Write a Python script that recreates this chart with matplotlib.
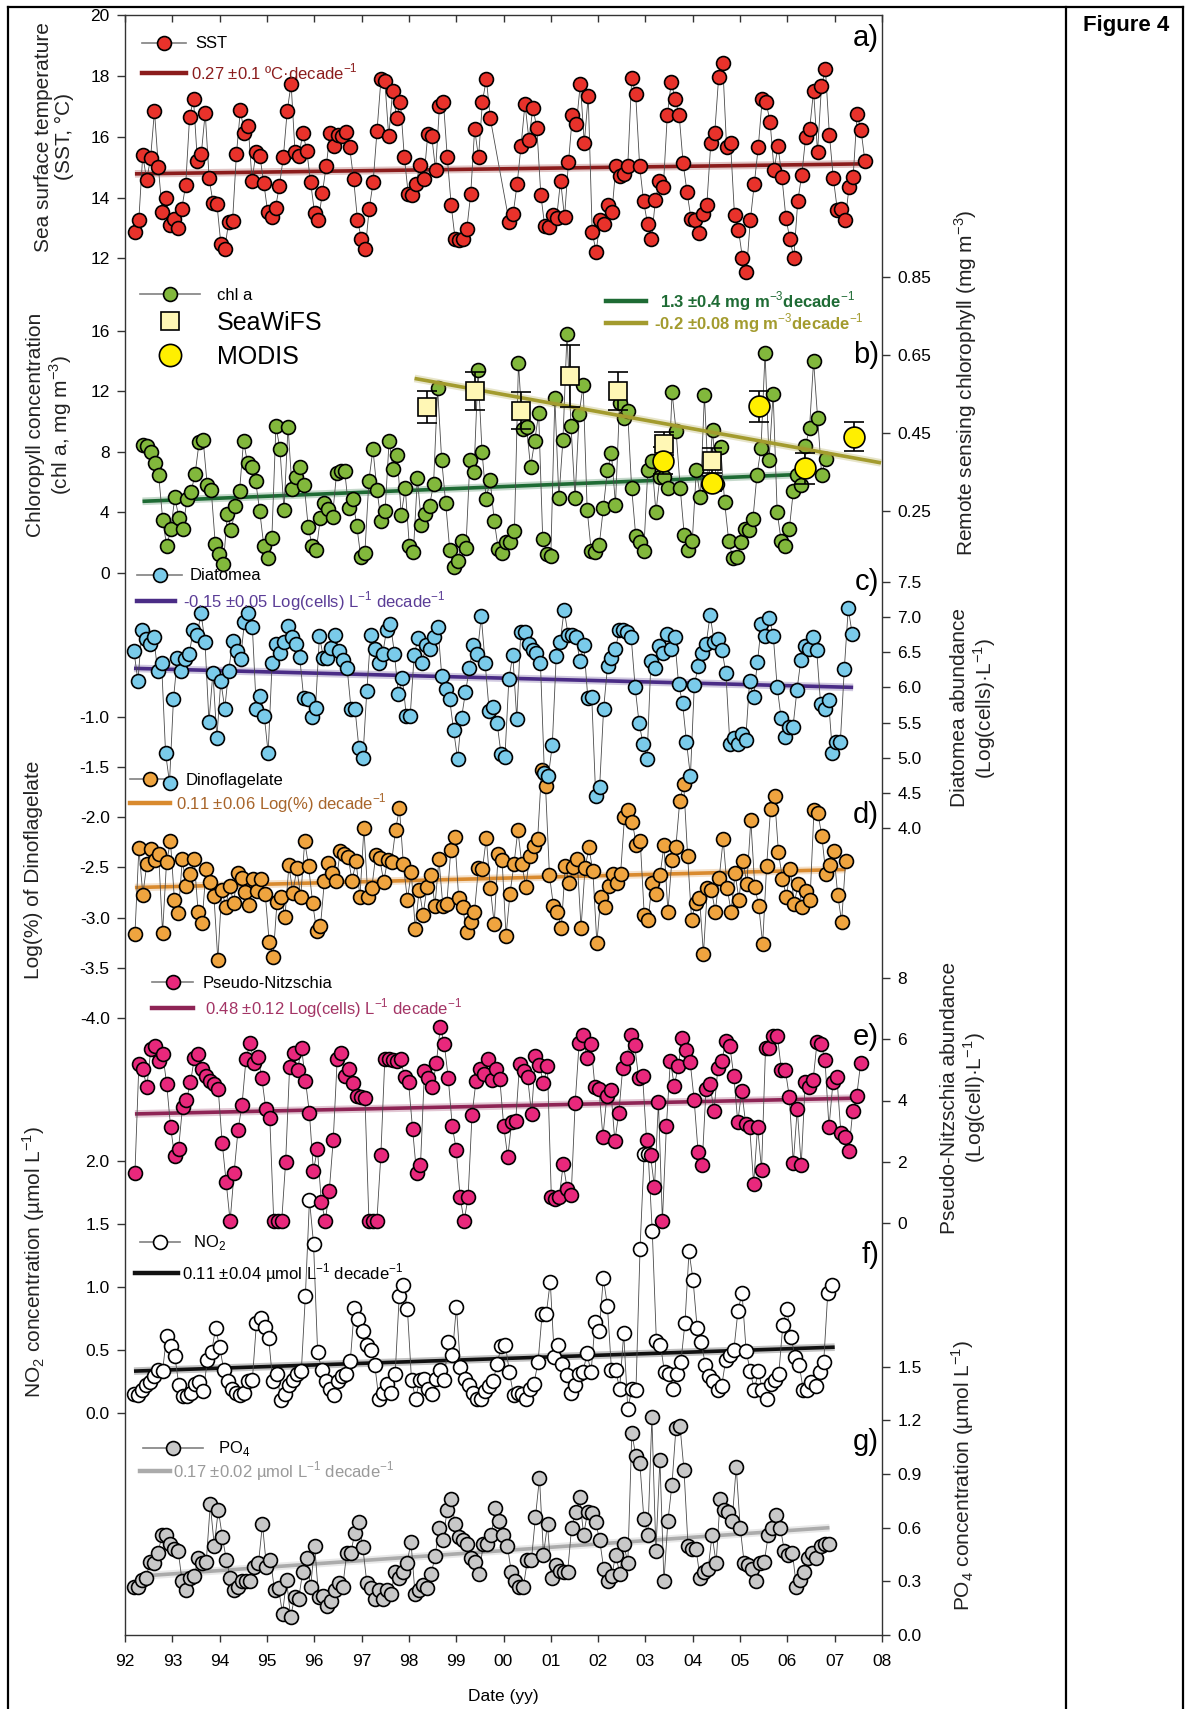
import numpy as np
import matplotlib
matplotlib.use('Agg')
import matplotlib.pyplot as plt
from matplotlib.lines import Line2D
from matplotlib.legend import Legend

plt.rcParams['font.family'] = ['Liberation Sans', 'DejaVu Sans']
plt.rcParams['mathtext.fontset'] = 'custom'
plt.rcParams['mathtext.rm'] = 'Liberation Sans'
plt.rcParams['mathtext.bf'] = 'Liberation Sans:bold'
plt.rcParams['axes.unicode_minus'] = False

# ---------------- data ----------------
# a) sea surface temperature, two sampling stretches
sst_a = [12.86, 13.27, 15.41, 14.58, 15.29, 16.85, 15.00, 13.52, 13.98, 13.08,
         13.30, 13.01, 13.63, 14.42, 16.66, 17.23, 15.19, 15.45, 16.79, 14.64,
         13.83, 13.79, 12.48, 12.31, 13.19, 13.22, 15.45, 16.87, 16.14, 16.35,
         14.56, 15.49, 15.36, 14.48, 13.52, 13.36, 13.66, 14.39, 15.32, 16.85,
         17.75, 15.49, 15.36, 16.14, 15.54, 14.50, 13.49, 13.25, 14.14, 15.05,
         16.14, 15.70, 16.07, 16.03, 16.17, 15.65, 14.61, 13.27, 12.63, 12.31,
         13.63, 14.50, 16.20, 17.89, 17.84, 16.01, 17.51, 16.63, 17.13, 15.32,
         14.12, 14.07, 14.45, 15.08, 14.61, 16.09, 16.03, 14.91, 17.02, 17.16,
         15.32, 13.74, 12.64, 12.59, 12.63, 12.97, 14.12, 16.25, 15.32, 17.16,
         17.91, 16.61]
sst_b = [13.19, 13.46, 14.43, 15.70, 17.09, 15.90, 16.96, 16.28, 14.10, 13.05,
         13.03, 13.41, 13.33, 14.56, 13.36, 15.16, 16.71, 16.42, 17.75, 15.81,
         17.34, 12.86, 12.21, 13.25, 13.14, 13.74, 13.52, 15.05, 14.70, 14.78,
         15.05, 17.95, 17.40, 15.05, 13.87, 13.14, 12.64, 13.93, 14.54, 14.36,
         16.71, 17.80, 17.23, 16.71, 15.13, 14.17, 13.30, 13.25, 12.83, 13.46,
         13.77, 15.79, 16.14, 17.98, 18.44, 15.65, 15.79, 13.41, 12.94, 12.02,
         11.55, 13.25, 14.45, 15.65, 17.23, 17.13, 16.49, 14.91, 15.70, 14.67,
         13.33, 12.64, 12.02, 13.88, 14.74, 15.98, 16.25, 17.51, 15.49, 17.67,
         18.22, 16.07, 14.63, 13.60, 13.63, 13.27, 14.36, 14.67, 16.74, 16.22,
         15.19]
sst_span_a = (1992.21, 1999.72)
sst_span_b = (2000.12, 2007.64)
sst_trend_x = [1992.21, 2007.64]
sst_trend = [14.78, 15.11]

# b) chlorophyll a
chl = [8.47, 8.40, 7.96, 7.23, 6.48, 3.49, 1.73, 2.89, 4.99, 3.62,
       2.89, 4.88, 5.32, 6.53, 8.62, 8.78, 5.82, 5.47, 1.90, 1.24,
       0.58, 3.89, 2.83, 4.44, 5.38, 8.73, 7.23, 6.97, 6.04, 4.06,
       1.79, 0.98, 2.30, 9.72, 8.18, 4.15, 9.66, 5.54, 6.31, 7.01,
       5.82, 3.00, 1.73, 1.51, 3.62, 4.59, 4.22, 3.71, 6.57, 6.70,
       6.75, 4.28, 4.88, 3.11, 1.02, 1.29, 6.09, 8.18, 5.47, 3.44,
       4.06, 8.73, 6.86, 7.81, 3.84, 5.60, 1.79, 1.35, 6.26, 3.18,
       3.89, 4.44, 5.87, 12.21, 7.48, 4.59, 1.51, 0.36, 0.80, 2.08,
       1.64, 7.48, 6.64, 13.40, 7.96, 4.88, 6.13, 3.44, 1.57, 1.29,
       2.01, 2.01, 2.74, 13.91, 9.50, 9.61, 6.97, 8.69, 10.54, 2.23,
       1.20, 1.07, 11.55, 4.94, 8.78, 15.78, 9.72, 4.94, 10.50, 12.41,
       4.15, 1.42, 1.35, 1.86, 4.28, 6.79, 7.89, 4.50, 11.20, 10.27,
       10.67, 5.60, 2.45, 2.01, 1.46, 6.79, 7.41, 4.00, 6.35, 6.30,
       5.63, 11.93, 9.35, 5.63, 2.52, 1.51, 2.12, 6.79, 4.99, 11.77,
       5.85, 9.44, 5.85, 8.33, 4.66, 2.12, 0.98, 1.02, 2.01, 2.89,
       2.83, 3.55, 6.48, 8.25, 14.57, 7.45, 11.86, 4.00, 2.08, 1.73,
       2.89, 5.43, 6.48, 5.82, 8.40, 9.57, 14.02, 10.27, 6.48, 7.52]
chl_span = (1992.37, 2006.81)
chl_trend_x = [1992.37, 2006.12]
chl_trend = [4.72, 6.48]

# b) remote sensing chlorophyll (right axis)
sw_year = [1998.39, 1999.40, 2000.38, 2001.41, 2002.41, 2003.40, 2004.41]
sw_val = [0.516, 0.558, 0.507, 0.596, 0.558, 0.422, 0.379]
sw_err = [0.041, 0.049, 0.048, 0.080, 0.049, 0.030, 0.032]
md_year = [2003.38, 2004.41, 2005.40, 2006.38, 2007.41]
md_val = [0.379, 0.320, 0.518, 0.359, 0.440]
md_err = [0.035, 0.020, 0.040, 0.040, 0.037]
rs_trend_x = [1998.12, 2007.98]
rs_trend = [0.590, 0.373]

# c) diatoms
dia = [6.51, 6.09, 6.81, 6.68, 6.61, 6.71, 6.23, 6.34, 5.07, 4.65,
       5.83, 6.42, 6.23, 6.40, 6.47, 6.81, 6.75, 7.05, 6.64, 5.51,
       6.21, 5.28, 6.09, 5.70, 6.23, 6.66, 6.52, 6.40, 6.93, 7.05,
       6.85, 5.69, 5.88, 5.60, 5.07, 6.35, 6.62, 6.49, 6.64, 6.87,
       6.72, 6.61, 6.43, 5.85, 5.83, 5.58, 5.71, 6.73, 6.42, 6.42,
       6.56, 6.74, 6.52, 6.39, 6.28, 5.70, 5.70, 5.14, 5.00, 5.95,
       6.75, 6.54, 6.35, 6.47, 6.81, 6.90, 6.48, 5.90, 6.14, 5.60,
       5.60, 6.46, 6.70, 6.34, 6.60, 6.54, 6.72, 6.86, 6.16, 5.97,
       5.83, 5.39, 4.98, 5.57, 5.93, 6.27, 6.60, 6.48, 7.01, 6.34,
       5.67, 5.72, 5.50, 5.06, 5.01, 6.12, 6.46, 5.55, 6.78, 6.78,
       6.61, 6.53, 6.49, 6.34, 4.78, 4.74, 5.18, 6.44, 6.64, 7.10,
       6.75, 6.74, 6.72, 6.37, 6.60, 5.85, 5.86, 4.46, 4.59, 5.69,
       6.30, 6.41, 6.54, 6.82, 6.81, 6.78, 6.71, 6.00, 5.49, 5.20,
       4.98, 6.38, 6.27, 6.59, 6.49, 6.76, 6.54, 6.71, 6.05, 5.78,
       5.23, 4.74, 6.04, 6.30, 6.49, 6.62, 7.03, 6.65, 6.68, 6.53,
       6.20, 5.20, 5.28, 5.20, 5.34, 5.25, 6.09, 5.86, 6.36, 6.90,
       6.73, 6.99, 6.73, 6.00, 5.56, 5.30, 5.44, 5.44, 5.96, 6.39,
       6.59, 6.54, 6.72, 6.53, 5.76, 5.70, 5.82, 5.07, 5.22, 5.23,
       6.26, 7.12, 6.76]
dia_span = (1992.19, 2007.37)
dia_trend_x = [1992.19, 2007.39]
dia_trend = [6.27, 6.00]

# d) dinoflagellates
dino = [-3.16, -2.31, -2.77, -2.47, -2.32, -2.43, -2.37, -3.15, -2.45, -2.24,
        -2.82, -2.95, -2.42, -2.68, -2.57, -2.42, -2.94, -3.05, -2.52, -2.64,
        -2.78, -3.42, -2.72, -2.89, -2.68, -2.85, -2.56, -2.60, -2.74, -2.87,
        -2.61, -2.73, -2.61, -2.76, -3.24, -3.39, -2.84, -2.79, -2.99, -2.48,
        -2.75, -2.51, -2.79, -2.24, -2.49, -2.85, -3.13, -3.08, -2.63, -2.46,
        -2.56, -2.63, -2.34, -2.37, -2.40, -2.63, -2.44, -2.79, -2.11, -2.79,
        -2.70, -2.38, -2.41, -2.64, -2.43, -2.45, -2.13, -1.91, -2.47, -2.82,
        -2.55, -3.11, -2.72, -2.97, -2.69, -2.58, -2.88, -2.42, -2.88, -2.86,
        -2.33, -2.20, -2.80, -2.89, -3.14, -3.04, -2.94, -2.51, -2.52, -2.21,
        -2.70, -3.06, -2.37, -2.43, -3.18, -2.76, -2.47, -2.13, -2.47, -2.69,
        -2.39, -2.29, -2.22, -1.53, -1.69, -2.58, -2.88, -2.94, -3.10, -2.49,
        -2.65, -2.50, -2.42, -3.10, -2.51, -2.30, -2.54, -3.25, -2.79, -2.89,
        -2.68, -2.57, -2.65, -2.57, -2.00, -1.93, -2.05, -2.28, -2.24, -2.97,
        -3.02, -2.65, -2.76, -2.58, -2.28, -2.94, -2.43, -2.30, -1.84, -1.67,
        -2.39, -3.02, -2.85, -2.80, -3.36, -2.70, -2.72, -2.94, -2.60, -2.22,
        -2.70, -2.94, -2.56, -2.82, -2.44, -2.66, -2.03, -2.69, -2.88, -3.26,
        -2.49, -1.92, -1.79, -2.35, -2.61, -2.79, -2.52, -2.86, -2.66, -2.89,
        -2.73, -2.82, -1.93, -1.96, -2.19, -2.57, -2.48, -2.34, -2.77, -3.04,
        -2.44]
dino_span = (1992.21, 2007.23)
dino_trend_x = [1992.21, 2007.23]
dino_trend = [-2.70, -2.52]

# e) Pseudo-Nitzschia
pn = [1.63, 5.21, 5.02, 4.43, 5.67, 5.78, 5.30, 5.53, 4.54, 3.13,
      2.17, 2.42, 3.80, 4.02, 4.59, 5.40, 5.53, 5.02, 4.81, 4.64,
      4.54, 4.37, 2.61, 1.34, 0.05, 1.63, 3.04, 3.86, 5.35, 5.89,
      5.24, 5.43, 4.73, 3.72, 3.43, 0.05, 0.05, 0.05, 1.99, 5.10,
      5.57, 4.99, 5.73, 4.64, 3.58, 1.69, 2.42, 0.69, 0.05, 1.04,
      2.71, 5.35, 5.57, 4.81, 5.02, 4.56, 4.16, 4.12, 4.08, 0.05,
      0.05, 0.05, 2.20, 5.35, 5.35, 5.32, 5.30, 5.35, 4.77, 4.59,
      3.07, 1.63, 1.88, 4.97, 4.75, 4.43, 5.24, 6.40, 5.86, 4.73,
      3.18, 2.39, 0.83, 0.05, 0.83, 3.54, 4.64, 5.02, 4.86, 5.35,
      4.67, 5.02, 4.70, 3.15, 2.15, 3.29, 3.32, 5.21, 4.95, 4.77,
      3.56, 5.46, 5.16, 4.56, 5.13, 0.83, 0.79, 0.85, 1.93, 1.09,
      0.90, 3.91, 5.89, 6.13, 5.38, 5.84, 4.43, 4.37, 2.82, 4.16,
      4.34, 2.67, 3.58, 5.08, 5.38, 6.14, 5.82, 4.75, 4.81, 2.71,
      2.20, 1.17, 3.94, 0.05, 3.15, 5.30, 4.48, 5.13, 6.05, 5.64,
      5.27, 4.02, 2.31, 1.88, 4.37, 4.54, 3.65, 5.08, 5.30, 5.95,
      5.78, 4.81, 3.29, 4.32, 3.23, 3.13, 1.28, 3.13, 1.74, 5.71,
      5.71, 6.11, 6.11, 4.99, 4.99, 4.12, 1.95, 3.72, 1.88, 4.59,
      4.45, 4.67, 5.92, 5.86, 5.32, 3.13, 4.59, 4.77, 2.93, 2.80,
      2.35, 3.67, 4.16, 5.24]
pn_span = (1992.21, 2007.55)
pn_trend_x = [1992.21, 2007.55]
pn_trend = [3.56, 4.08]

# f) nitrite
no2 = [0.15, 0.14, 0.18, 0.22, 0.24, 0.29, 0.34, 0.33, 0.61, 0.53,
       0.45, 0.22, 0.13, 0.13, 0.16, 0.23, 0.24, 0.17, 0.42, 0.48,
       0.67, 0.52, 0.34, 0.25, 0.19, 0.16, 0.14, 0.16, 0.25, 0.26,
       0.71, 0.75, 0.68, 0.59, 0.25, 0.31, 0.10, 0.15, 0.22, 0.26,
       0.31, 0.33, 0.93, 1.69, 1.34, 0.48, 0.34, 0.25, 0.19, 0.14,
       0.25, 0.29, 0.31, 0.41, 0.83, 0.74, 0.65, 0.54, 0.50, 0.38,
       0.11, 0.16, 0.23, 0.16, 0.31, 0.93, 1.01, 0.82, 0.26, 0.11,
       0.26, 0.27, 0.19, 0.15, 0.27, 0.34, 0.26, 0.56, 0.46, 0.84,
       0.36, 0.27, 0.22, 0.16, 0.11, 0.11, 0.17, 0.21, 0.25, 0.39,
       0.53, 0.54, 0.32, 0.14, 0.16, 0.15, 0.11, 0.19, 0.23, 0.40,
       0.78, 0.78, 1.04, 0.44, 0.54, 0.39, 0.30, 0.16, 0.22, 0.31,
       0.32, 0.47, 0.32, 0.72, 0.65, 1.07, 0.85, 0.34, 0.34, 0.19,
       0.63, 0.03, 0.19, 0.18, 1.30, 2.05, 2.05, 1.44, 0.57, 0.54,
       0.32, 0.31, 0.19, 0.31, 0.40, 0.71, 1.28, 1.05, 0.67, 0.56,
       0.38, 0.29, 0.25, 0.18, 0.21, 0.42, 0.46, 0.50, 0.81, 0.95,
       0.49, 0.33, 0.18, 0.33, 0.18, 0.11, 0.23, 0.26, 0.31, 0.70,
       0.82, 0.60, 0.44, 0.38, 0.18, 0.18, 0.24, 0.21, 0.32, 0.40,
       0.95, 1.01]
no2_span = (1992.19, 2006.94)
no2_trend_x = [1992.19, 2007.0]
no2_trend = [0.33, 0.52]

# g) phosphate
po4 = [0.27, 0.27, 0.31, 0.32, 0.41, 0.40, 0.46, 0.56, 0.56, 0.51,
       0.48, 0.47, 0.30, 0.25, 0.32, 0.33, 0.43, 0.40, 0.41, 0.73,
       0.50, 0.70, 0.55, 0.42, 0.32, 0.25, 0.27, 0.30, 0.30, 0.30,
       0.38, 0.40, 0.62, 0.38, 0.42, 0.25, 0.26, 0.12, 0.31, 0.10,
       0.21, 0.20, 0.35, 0.43, 0.27, 0.50, 0.21, 0.22, 0.16, 0.19,
       0.25, 0.29, 0.27, 0.46, 0.46, 0.57, 0.63, 0.49, 0.29, 0.26,
       0.20, 0.25, 0.20, 0.25, 0.23, 0.35, 0.32, 0.35, 0.40, 0.52,
       0.23, 0.25, 0.28, 0.26, 0.34, 0.44, 0.60, 0.53, 0.70, 0.76,
       0.62, 0.55, 0.53, 0.51, 0.43, 0.41, 0.34, 0.51, 0.51, 0.56,
       0.71, 0.64, 0.56, 0.50, 0.35, 0.30, 0.27, 0.27, 0.42, 0.42,
       0.66, 0.88, 0.45, 0.62, 0.32, 0.39, 0.36, 0.35, 0.35, 0.60,
       0.69, 0.77, 0.56, 0.69, 0.68, 0.63, 0.53, 0.37, 0.30, 0.33,
       0.45, 0.34, 0.51, 0.40, 1.13, 1.00, 0.96, 0.65, 0.56, 1.22,
       0.47, 0.98, 0.30, 0.64, 0.84, 1.16, 1.17, 0.92, 0.50, 0.48,
       0.48, 0.32, 0.35, 0.37, 0.56, 0.40, 0.76, 0.70, 0.69, 0.64,
       0.94, 0.60, 0.40, 0.39, 0.37, 0.30, 0.40, 0.41, 0.56, 0.60,
       0.67, 0.60, 0.47, 0.45, 0.46, 0.27, 0.31, 0.35, 0.43, 0.46,
       0.43, 0.50, 0.51, 0.51]
po4_span = (1992.19, 2006.87)
po4_trend_x = [1992.37, 2006.89]
po4_trend = [0.33, 0.60]

years = list(range(1992, 2009))
year_labels = ['%02d' % (y % 100) for y in years]

# ---------------- layout ----------------
W, H = 1190, 1709
fig = plt.figure(figsize=(W / 100, H / 100), dpi=100)
fig.patch.set_facecolor('white')

L, R, T, B = 125, 882, 15, 1635          # plot box in pixels
rect = [L / W, 1 - B / H, (R - L) / W, (B - T) / H]


def lims(v1, y1, v2, y2):
    # y-limits so that value v1 sits on pixel row y1 and v2 on y2
    k = (v1 - v2) / (y2 - y1)
    return v2 - (B - y2) * k, v1 + (y1 - T) * k


def panel(ylim, ticks, fmt, side):
    ax = fig.add_axes(rect, facecolor='none')
    ax.set_xlim(1992, 2008)
    ax.set_ylim(*ylim)
    ax.set_yticks(ticks)
    ax.set_yticklabels([fmt.format(t) for t in ticks])
    left = side == 'left'
    ax.tick_params(axis='y', direction='out', length=6, width=1, color='#333333',
                   labelsize=12.5, pad=5, left=left, labelleft=left,
                   right=not left, labelright=not left)
    ax.xaxis.set_visible(False)
    for s in ax.spines.values():
        s.set_visible(False)
    return ax


def dates(span, vals):
    return np.linspace(span[0], span[1], len(vals))


def series(ax, x, y, face):
    ax.plot(x, y, color='#4a4a4a', lw=0.6, marker='o', ms=10, mfc=face,
            mec='black', mew=1.2, zorder=3)


def trend(ax, x, y, color):
    ax.plot(x, y, color=color, lw=5.5, alpha=0.25, solid_capstyle='butt', zorder=2)
    ax.plot(x, y, color=color, lw=2.6, solid_capstyle='butt', zorder=2)


def key(ax, handle, label, x0, yc, length, text_x, size=12, color='black', weight='normal'):
    fpx = size * 100 / 72
    leg = Legend(ax, [handle], [label], loc='center left',
                 bbox_to_anchor=(x0 / W, 1 - yc / H), bbox_transform=fig.transFigure,
                 frameon=False, borderpad=0, borderaxespad=0, numpoints=1,
                 handlelength=length / fpx, handletextpad=(text_x - x0 - length) / fpx,
                 prop={'size': size, 'weight': weight})
    leg.get_texts()[0].set_color(color)
    ax.add_artist(leg)


def dot(face, ms=10):
    return Line2D([], [], color='#808080', lw=1.2, marker='o', ms=ms, mfc=face,
                  mec='black', mew=1.2)


def bar(color):
    return Line2D([], [], color=color, lw=3.2)


# frame axes: spines and date ticks
frame = fig.add_axes(rect, facecolor='none')
frame.set_xlim(1992, 2008)
frame.set_xticks(years)
frame.set_xticklabels(year_labels)
frame.tick_params(axis='x', direction='out', length=5, width=1, color='#333333',
                  labelsize=12.5, pad=9)
frame.set_yticks([])
for s in frame.spines.values():
    s.set_color('#333333')
    s.set_linewidth(1)
frame.set_xlabel('Date (yy)', fontsize=12.5, labelpad=14)

# top tick marks (inward)
top = fig.add_axes(rect, facecolor='none')
top.set_xlim(1992, 2008)
top.xaxis.tick_top()
top.set_xticks(years)
top.tick_params(axis='x', direction='in', length=5, width=1, color='#333333', labeltop=False)
top.set_yticks([])
for s in top.spines.values():
    s.set_visible(False)

# a) SST
ax_sst = panel(lims(20, 15.3, 12, 258.3), [12, 14, 16, 18, 20], '{:.0f}', 'left')
trend(ax_sst, sst_trend_x, sst_trend, '#8B1C1C')
series(ax_sst, np.r_[dates(sst_span_a, sst_a), dates(sst_span_b, sst_b)], sst_a + sst_b, '#E8322B')
key(ax_sst, dot('#E8322B'), 'SST', 142, 44, 44, 195)
key(ax_sst, bar('#8B1C1C'), '0.27 ±0.1 ºC·decade$^{-1}$', 142, 72, 44, 191, color='#8B1C1C')

# d) dinoflagellates
ax_dino = panel(lims(-1.0, 716.7, -3.0, 917.7), [-1.0, -1.5, -2.0, -2.5, -3.0, -3.5, -4.0],
                '{:.1f}', 'left')
trend(ax_dino, dino_trend_x, dino_trend, '#D98A2E')
series(ax_dino, dates(dino_span, dino), dino, '#EFA43F')
key(ax_dino, dot('#EFA43F'), 'Dinoflagelate', 130, 780, 40, 186)
key(ax_dino, bar('#D98A2E'), '0.11 ±0.06 Log(%) decade$^{-1}$', 130, 803, 40, 176, color='#A8652A')

# c) diatoms
ax_dia = panel(lims(7.5, 581.7, 4.0, 828.3), [4.0, 4.5, 5.0, 5.5, 6.0, 6.5, 7.0, 7.5],
               '{:.1f}', 'right')
trend(ax_dia, dia_trend_x, dia_trend, '#4A2C86')
series(ax_dia, dates(dia_span, dia), dia, '#7ACBEA')
key(ax_dia, dot('#7ACBEA'), 'Diatomea', 137, 576, 45, 190)
key(ax_dia, bar('#4A2C86'), '-0.15 ±0.05 Log(cells) L$^{-1}$ decade$^{-1}$', 137, 601, 38, 183,
    color='#5A3C96')

# b) chlorophyll
ax_chl = panel(lims(16, 331, 0, 572.6), [0, 4, 8, 12, 16], '{:.0f}', 'left')
trend(ax_chl, chl_trend_x, chl_trend, '#1E6B34')
series(ax_chl, dates(chl_span, chl), chl, '#82B83C')
key(ax_chl, dot('#82B83C'), 'chl a', 140, 295, 60, 217)
key(ax_chl, bar('#1E6B34'), '1.3 ±0.4 mg m$^{-3}$decade$^{-1}$', 606, 301, 40, 660,
    color='#1E6B34', weight='bold')

ax_rs = panel(lims(0.85, 277.3, 0.25, 510.7), [0.25, 0.45, 0.65, 0.85], '{:.2f}', 'right')
trend(ax_rs, rs_trend_x, rs_trend, '#A39B2E')
ax_rs.errorbar(sw_year, sw_val, yerr=sw_err, fmt='s', ms=13, mfc='#FFF7B5', mec='black',
               mew=1.2, ecolor='black', elinewidth=1.2, capsize=7, capthick=1.2, zorder=4)
ax_rs.errorbar(md_year, md_val, yerr=md_err, fmt='o', ms=15, mfc='#FFEF00', mec='black',
               mew=1.2, ecolor='black', elinewidth=1.2, capsize=7, capthick=1.2, zorder=4)
key(ax_rs, Line2D([], [], ls='none', marker='s', ms=13, mfc='#FFF7B5', mec='black', mew=1.2),
    'SeaWiFS', 140, 323, 60, 217, size=18)
key(ax_rs, Line2D([], [], ls='none', marker='o', ms=16, mfc='#FFEF00', mec='black', mew=1.2),
    'MODIS', 140, 357, 60, 217, size=18)
key(ax_rs, bar('#A39B2E'), '-0.2 ±0.08 mg m$^{-3}$decade$^{-1}$', 606, 323, 40, 654,
    color='#A39B2E', weight='bold')

# f) NO2
ax_no2 = panel(lims(2.0, 1160.7, 0.0, 1412.7), [0.0, 0.5, 1.0, 1.5, 2.0], '{:.1f}', 'left')
trend(ax_no2, no2_trend_x, no2_trend, '#111111')
series(ax_no2, dates(no2_span, no2), no2, 'white')
key(ax_no2, dot('white'), 'NO$_2$', 140, 1243, 40, 193)
key(ax_no2, bar('#111111'), '0.11 ±0.04 µmol L$^{-1}$ decade$^{-1}$', 135, 1273, 43, 182)

# e) Pseudo-Nitzschia
ax_pn = panel(lims(8, 978.3, 0, 1222.7), [0, 2, 4, 6, 8], '{:.0f}', 'right')
trend(ax_pn, pn_trend_x, pn_trend, '#8E2455')
series(ax_pn, dates(pn_span, pn), pn, '#E8287C')
key(ax_pn, dot('#E8287C'), 'Pseudo-Nitzschia', 152, 983, 41, 203)
key(ax_pn, bar('#8E2455'), '0.48 ±0.12 Log(cells) L$^{-1}$ decade$^{-1}$', 152, 1008, 41, 205,
    color='#A33465')

# g) PO4
ax_po4 = panel(lims(1.5, 1366.7, 0.0, 1635), [0.0, 0.3, 0.6, 0.9, 1.2, 1.5], '{:.1f}', 'right')
trend(ax_po4, po4_trend_x, po4_trend, '#ABABAB')
series(ax_po4, dates(po4_span, po4), po4, '#C8C8C8')
key(ax_po4, dot('#C8C8C8'), 'PO$_4$', 143, 1449, 60, 218)
key(ax_po4, bar('#ABABAB'), '0.17 ±0.02 µmol L$^{-1}$ decade$^{-1}$', 140, 1471, 30, 173,
    color='#9A9A9A')

# axis titles
def vlabel(x, y, s):
    fig.text(x / W, 1 - y / H, s, rotation=90, ha='center', va='center', fontsize=15,
             linespacing=1.15, multialignment='center', color='#222222')

vlabel(54, 137, 'Sea surface temperature\n(SST, °C)')
vlabel(50, 425, 'Chloropyll concentration\n(chl a, mg m$^{-3}$)')
vlabel(34, 870, 'Log(%) of Dinoflagelate')
vlabel(34, 1262, 'NO$_2$ concentration (µmol L$^{-1}$)')
vlabel(966, 383, 'Remote sensing chlorophyll (mg m$^{-3}$)')
vlabel(974, 708, 'Diatomea abundance\n(Log(cells)·L$^{-1}$)')
vlabel(964, 1098, 'Pseudo-Nitzschia abundance\n(Log(cell)·L$^{-1}$)')
vlabel(963, 1475, 'PO$_4$ concentration (µmol L$^{-1}$)')

# panel letters
for letter, yy in zip('abcdefg', [38, 355, 582, 815, 1037, 1255, 1442]):
    fig.text(879 / W, 1 - yy / H, letter + ')', ha='right', va='center', fontsize=21)

fig.text(1126 / W, 1 - 26 / H, 'Figure 4', ha='center', va='center', fontsize=16,
         weight='bold')

# page frame
for xs, ys in [([8, 8], [7, H]), ([8, 1183], [7, 7]), ([1183, 1183], [7, H]),
               ([1066, 1066], [7, H])]:
    fig.add_artist(Line2D([x / W for x in xs], [1 - y / H for y in ys], color='black',
                          lw=1.6, transform=fig.transFigure))

fig.savefig('out.png', dpi=100)
